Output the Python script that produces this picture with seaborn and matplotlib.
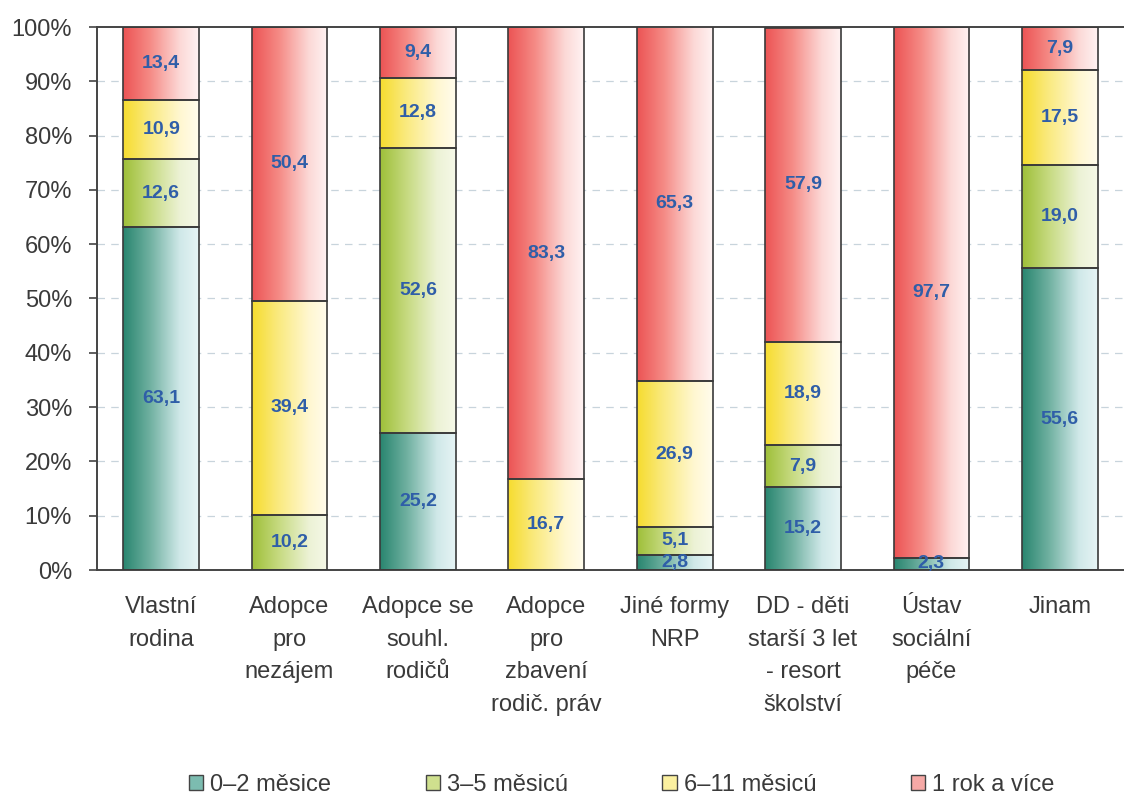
import numpy as np
import pandas as pd
import matplotlib
matplotlib.use("Agg")
import matplotlib.pyplot as plt
from matplotlib.colors import LinearSegmentedColormap
from matplotlib.patches import Patch
import seaborn as sns

categories = ["Vlastní\nrodina", "Adopce\npro\nnezájem", "Adopce se\nsouhl.\nrodičů",
              "Adopce\npro\nzbavení\nrodič. práv", "Jiné formy\nNRP",
              "DD - děti\nstarší 3 let\n- resort\nškolství", "Ústav\nsociální\npéče", "Jinam"]
series_names = ["0–2 měsice", "3–5 měsicú", "6–11 měsicú", "1 rok a více"]
s_0_2 = [63.1, 0.0, 25.2, 0.0, 2.8, 15.2, 2.3, 55.6]
s_3_5 = [12.6, 10.2, 52.6, 0.0, 5.1, 7.9, 0.0, 19.0]
s_6_11 = [10.9, 39.4, 12.8, 16.7, 26.9, 18.9, 0.0, 17.5]
s_1rok = [13.4, 50.4, 9.4, 83.3, 65.3, 57.9, 97.7, 7.9]
y_ticks = [0, 10, 20, 30, 40, 50, 60, 70, 80, 90, 100]

series = [s_0_2, s_3_5, s_6_11, s_1rok]
grad = [["#2a8670", "#6fb0a0", "#cfe8e8", "#e6f4f5"],
        ["#9fc03a", "#c6da80", "#ecf2d4", "#f5f8e8"],
        ["#f6dc30", "#faea80", "#fff7d0", "#fffcec"],
        ["#ec5555", "#f58a85", "#fcd8d6", "#fff2f2"]]
legend_cols = ["#7cbcb0", "#cfe08e", "#fbf0a0", "#f6a9a6"]

sns.set_theme(style="white")
plt.rcParams['font.family'] = ['Liberation Sans', 'DejaVu Sans']

fig = plt.figure(figsize=(11.24, 8.05), dpi=100)
ax = fig.add_axes([97/1124, (805-570)/805, (1124-97)/1124, 543/805])

df = pd.DataFrame({"cat": categories})
bottom = np.zeros(len(categories))
bar_w = 0.59
for i, vals in enumerate(series):
    vals = np.array(vals)
    df["v"] = vals
    n_before = len(ax.patches)
    sns.barplot(data=df, x="cat", y="v", bottom=bottom, width=bar_w, ax=ax,
                color="none", edgecolor="#3a3a3a", linewidth=1.2, zorder=3,
                errorbar=None)
    new = ax.patches[n_before:]
    cmap = LinearSegmentedColormap.from_list(
        "g%d" % i, list(zip([0.0, 0.35, 0.75, 1.0], grad[i])))
    gimg = cmap(np.linspace(0, 1, 64))[None, :, :3]
    for j, p in enumerate(new):
        p.set_facecolor("none")
        if vals[j] <= 0:
            p.set_visible(False)
            continue
        x0, y0 = p.get_x(), p.get_y()
        w, h = p.get_width(), p.get_height()
        im = ax.imshow(gimg, extent=[x0, x0 + w, y0, y0 + h], aspect="auto",
                       interpolation="bilinear", zorder=2)
        im.set_clip_path(p)
        lab = ("%.1f" % vals[j]).replace(".", ",")
        ax.text(x0 + w / 2, y0 + h / 2, lab, ha="center", va="center",
                color="#2f5ea8", fontsize=14, fontweight="bold", zorder=5)
    bottom = bottom + vals

ax.set_xlim(-0.5, 7.43)
ax.set_ylim(0, 100)
ax.set_yticks(y_ticks)
ax.set_yticklabels(["%d%%" % t for t in y_ticks], fontsize=17, color="#3a3a3a")
ax.set_xticks(range(len(categories)))
ax.set_xticklabels(categories, fontsize=17, color="#3a3a3a", linespacing=1.62, va="top")
ax.set_xlabel("")
ax.set_ylabel("")
ax.set_xticks(np.arange(len(categories)) + 0.5, minor=True)
ax.tick_params(axis="x", which="major", length=0, pad=19)
ax.tick_params(axis="x", which="minor", length=6, width=1.2, color="#444444", direction="out")
ax.tick_params(axis="y", length=6, width=1.2, color="#444444", direction="out", pad=12, left=True)
for t in y_ticks[1:-1]:
    ax.axhline(t, color="#c8d4dc", linestyle=(0, (6, 5)), linewidth=0.9, zorder=1)
for s in ["left", "bottom", "top"]:
    ax.spines[s].set_visible(True)
    ax.spines[s].set_color("#444444")
    ax.spines[s].set_linewidth(1.4)
ax.spines["right"].set_visible(False)
ax.set_zorder(1)

handles = [Patch(facecolor=c, edgecolor="#444444", linewidth=1.0) for c in legend_cols]
fig.legend(handles, series_names, loc="center", bbox_to_anchor=(0.553, 1 - 785/805),
           ncol=4, frameon=False, fontsize=17, handlelength=0.6, handleheight=0.6,
           handletextpad=0.3, columnspacing=4.0, labelcolor="#3a3a3a")

fig.savefig("out.png", dpi=100, facecolor="white")
